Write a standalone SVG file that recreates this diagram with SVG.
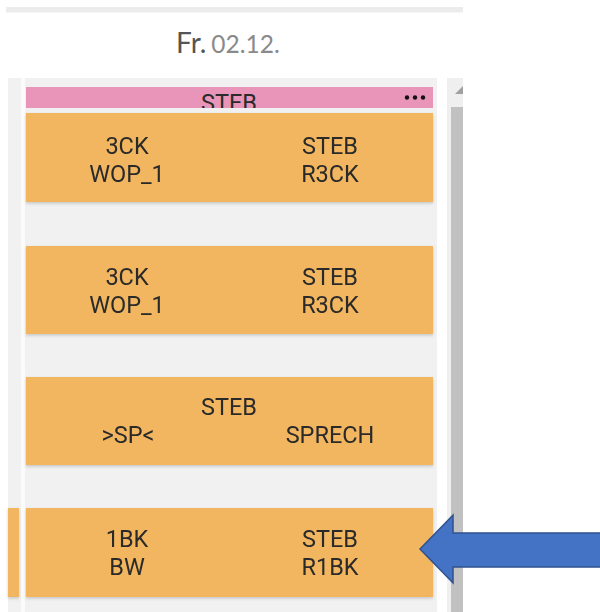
<svg xmlns="http://www.w3.org/2000/svg" width="600" height="612" viewBox="0 0 600 612">
  <style>
    .card { fill: #f1b65e; }
    .lbl { font-family: Roboto, "Open Sans", "Liberation Sans", sans-serif; font-size: 23.5px; fill: #2a2a2a; text-anchor: middle; }
    .day { font-family: Lato, "Open Sans", sans-serif; }
  </style>
  <defs>
    <filter id="shadow" x="-5%" y="-10%" width="110%" height="125%">
      <feDropShadow dx="0" dy="1.5" stdDeviation="1.5" flood-color="#000" flood-opacity="0.18"/>
    </filter>
    <clipPath id="hdrClip">
      <rect x="26" y="87" width="407" height="21"/>
    </clipPath>
  </defs>

  <!-- page background -->
  <rect x="0" y="0" width="600" height="612" fill="#ffffff"/>

  <!-- top bar -->
  <rect x="6" y="7" width="457" height="5" fill="#ececec"/>
  <rect x="6" y="12" width="457" height="1" fill="#f6f6f6"/>

  <!-- day heading -->
  <text class="day" x="176" y="53" font-size="28" fill="#555">Fr.<tspan font-size="24.5" fill="#8a8a8a" dx="5">02.12.</tspan></text>

  <!-- day column background -->
  <rect x="8" y="78" width="429" height="534" fill="#f1f1f1"/>
  <rect x="21" y="78" width="4" height="534" fill="#fbfbfb"/>

  <!-- scrollbar -->
  <rect x="447" y="78" width="16" height="534" fill="#efefef"/>
  <polygon points="455,94 463,94 463,86" fill="#a0a0a0"/>
  <rect x="451" y="107" width="12" height="505" fill="#c1c1c1"/>

  <!-- header strip -->
  <g id="header">
    <rect x="26" y="87" width="407" height="21" fill="#e995b9"/>
    <g clip-path="url(#hdrClip)">
      <text class="lbl" x="229" y="111" font-size="23">STEB</text>
    </g>
    <circle cx="407" cy="97.5" r="2.2" fill="#111"/>
    <circle cx="415" cy="97.5" r="2.2" fill="#111"/>
    <circle cx="423" cy="97.5" r="2.2" fill="#111"/>
  </g>

  <!-- cards -->
  <g id="card1" filter="url(#shadow)">
    <rect class="card" x="26" y="113" width="407" height="89"/>
    <text class="lbl" x="127" y="154">3CK</text>
    <text class="lbl" x="127" y="182">WOP_1</text>
    <text class="lbl" x="330" y="154">STEB</text>
    <text class="lbl" x="330" y="182">R3CK</text>
  </g>

  <g id="card2" filter="url(#shadow)">
    <rect class="card" x="26" y="246" width="407" height="88"/>
    <text class="lbl" x="127" y="285">3CK</text>
    <text class="lbl" x="127" y="313">WOP_1</text>
    <text class="lbl" x="330" y="285">STEB</text>
    <text class="lbl" x="330" y="313">R3CK</text>
  </g>

  <g id="card3" filter="url(#shadow)">
    <rect class="card" x="26" y="377" width="407" height="88"/>
    <text class="lbl" x="229" y="415">STEB</text>
    <text class="lbl" x="128" y="443">&gt;SP&lt;</text>
    <text class="lbl" x="330" y="443">SPRECH</text>
  </g>

  <g id="card4" filter="url(#shadow)">
    <rect class="card" x="8" y="508" width="11" height="89"/>
    <rect class="card" x="26" y="508" width="407" height="89"/>
    <text class="lbl" x="127" y="547">1BK</text>
    <text class="lbl" x="127" y="575">BW</text>
    <text class="lbl" x="330" y="547">STEB</text>
    <text class="lbl" x="330" y="575">R1BK</text>
  </g>

  <!-- pointer arrow -->
  <g id="connectors">
    <polygon points="420,549 453,515 453,533 601,533 601,567 453,567 453,583" fill="#4472c4" stroke="#2f528f" stroke-width="1.5" stroke-linejoin="miter"/>
  </g>
</svg>
